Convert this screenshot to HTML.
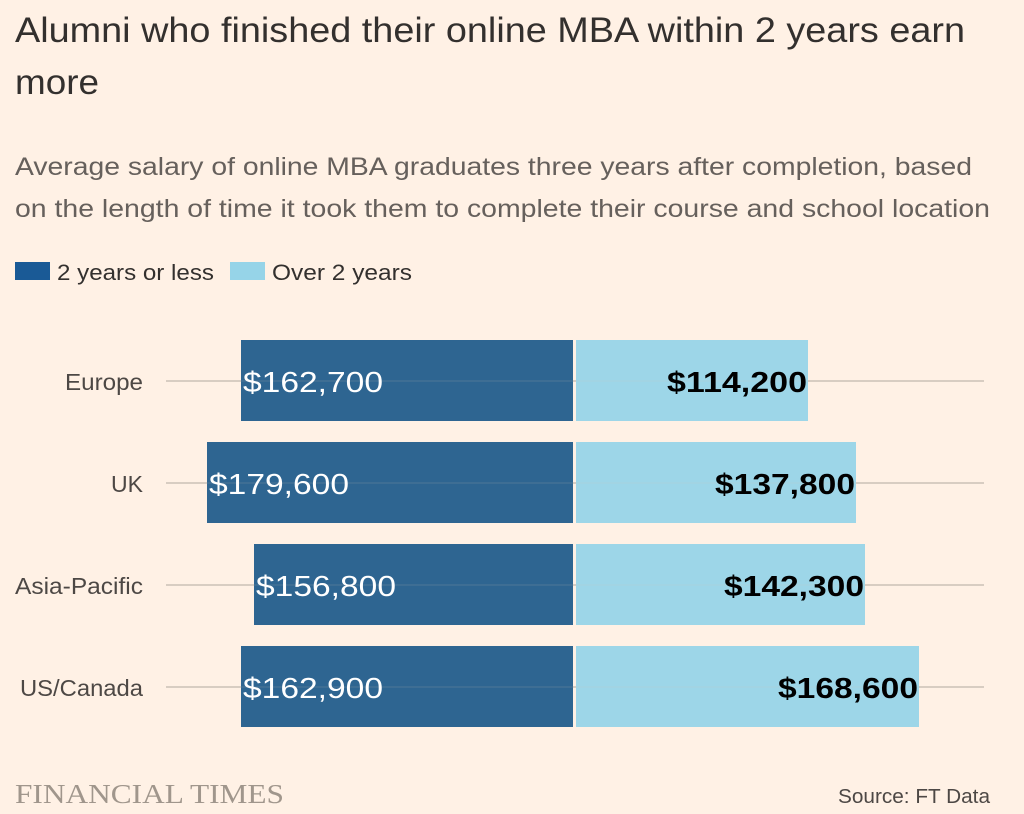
<!DOCTYPE html>
<html><head><meta charset="utf-8"><style>
html,body{margin:0;padding:0;background:#fff1e5;}
svg{display:block;}
text{font-family:"Liberation Sans",sans-serif;}
</style></head><body>
<svg width="1024" height="814" viewBox="0 0 1024 814" xmlns="http://www.w3.org/2000/svg">
<rect width="1024" height="814" fill="#fff1e5"/>
<text x="15" y="42" font-size="35" fill="#33302e" textLength="950" lengthAdjust="spacingAndGlyphs">Alumni who finished their online MBA within 2 years earn</text>
<text x="15" y="94" font-size="35" fill="#33302e" textLength="84" lengthAdjust="spacingAndGlyphs">more</text>
<text x="15" y="175" font-size="25" fill="#66605c" textLength="957" lengthAdjust="spacingAndGlyphs">Average salary of online MBA graduates three years after completion, based</text>
<text x="15" y="217" font-size="25" fill="#66605c" textLength="975" lengthAdjust="spacingAndGlyphs">on the length of time it took them to complete their course and school location</text>
<rect x="15" y="262" width="35" height="18" fill="#1a5a96"/>
<text x="57" y="280" font-size="22" fill="#33302e" textLength="157" lengthAdjust="spacingAndGlyphs">2 years or less</text>
<rect x="230" y="262" width="35" height="18" fill="#96d4e8"/>
<text x="272" y="280" font-size="22" fill="#33302e" textLength="140" lengthAdjust="spacingAndGlyphs">Over 2 years</text>
<g stroke="#ccc1b7" stroke-width="1.5">
<line x1="166" y1="381" x2="984" y2="381"/>
<line x1="166" y1="483" x2="984" y2="483"/>
<line x1="166" y1="585" x2="984" y2="585"/>
<line x1="166" y1="687" x2="984" y2="687"/>
</g>
<g fill="#2e6591">
<rect x="241" y="340" width="332" height="81"/>
<rect x="207" y="442" width="366" height="81"/>
<rect x="254" y="544" width="319" height="81"/>
<rect x="241" y="646" width="332" height="81"/>
</g>
<g fill="#9dd6e8">
<rect x="576" y="340" width="232" height="81"/>
<rect x="576" y="442" width="280" height="81"/>
<rect x="576" y="544" width="289" height="81"/>
<rect x="576" y="646" width="343" height="81"/>
</g>
<g stroke="#ccc1b7" stroke-width="1" opacity="0.2">
<line x1="166" y1="381" x2="984" y2="381"/>
<line x1="166" y1="483" x2="984" y2="483"/>
<line x1="166" y1="585" x2="984" y2="585"/>
<line x1="166" y1="687" x2="984" y2="687"/>
</g>
<g font-size="23" fill="#4d4845" text-anchor="end">
<text x="143" y="390" textLength="78" lengthAdjust="spacingAndGlyphs">Europe</text>
<text x="143" y="492">UK</text>
<text x="143" y="594" textLength="128" lengthAdjust="spacingAndGlyphs">Asia-Pacific</text>
<text x="143" y="696" textLength="123" lengthAdjust="spacingAndGlyphs">US/Canada</text>
</g>
<g font-size="29" fill="#fff">
<text x="243" y="392" textLength="140" lengthAdjust="spacingAndGlyphs">$162,700</text>
<text x="209" y="494" textLength="140" lengthAdjust="spacingAndGlyphs">$179,600</text>
<text x="256" y="596" textLength="140" lengthAdjust="spacingAndGlyphs">$156,800</text>
<text x="243" y="698" textLength="140" lengthAdjust="spacingAndGlyphs">$162,900</text>
</g>
<g font-size="29" fill="#000" font-weight="bold">
<text x="667" y="392" textLength="140" lengthAdjust="spacingAndGlyphs">$114,200</text>
<text x="715" y="494" textLength="140" lengthAdjust="spacingAndGlyphs">$137,800</text>
<text x="724" y="596" textLength="140" lengthAdjust="spacingAndGlyphs">$142,300</text>
<text x="778" y="698" textLength="140" lengthAdjust="spacingAndGlyphs">$168,600</text>
</g>
<text x="15" y="803" font-size="27" fill="#a0968c" style="font-family:'Liberation Serif',serif" textLength="269" lengthAdjust="spacingAndGlyphs">FINANCIAL TIMES</text>
<text x="838" y="803" font-size="20" fill="#4d4845" textLength="152" lengthAdjust="spacingAndGlyphs">Source: FT Data</text>
</svg>
</body></html>
